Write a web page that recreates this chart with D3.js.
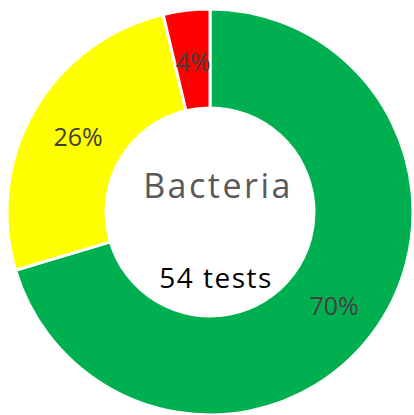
<!DOCTYPE html>
<html>
<head>
<meta charset="utf-8">
<script src="https://cdn.jsdelivr.net/npm/d3@7"></script>
<style>
  html, body { margin: 0; padding: 0; background: #fff; }
  svg { display: block; }
</style>
</head>
<body>
<svg id="chart" width="414" height="415"></svg>
<script>
// test results by outcome, clockwise from 12 o'clock
const outcomes = ['pass', 'warn', 'fail'];
const counts = [38, 14, 2];
const colors = ['#00B050', '#FFFF00', '#FF0000'];
const title = 'Bacteria';
const subtitle = '54 tests';

const width = 414;
const height = 415;
const cx = 210, cy = 212;
const outerR = 203, innerR = 104;

const svg = d3.select('#chart');
const g = svg.append('g').attr('transform', `translate(${cx},${cy})`);

const total = d3.sum(counts);
const pie = d3.pie().sort(null).value((d) => d.count);
const arcs = pie(outcomes.map((o, i) => ({ outcome: o, count: counts[i], color: colors[i] })));

const arc = d3.arc().innerRadius(innerR).outerRadius(outerR);

// slices, with a thin white gap between them
g.selectAll('path')
  .data(arcs)
  .enter()
  .append('path')
  .attr('d', arc)
  .attr('fill', (d) => d.data.color)
  .attr('stroke', '#fff')
  .attr('stroke-width', 3);

// percentage labels in the middle of the ring
g.selectAll('text.pct')
  .data(arcs)
  .enter()
  .append('text')
  .attr('class', 'pct')
  .attr('x', (d) => arc.centroid(d)[0] + 1)
  .attr('y', (d) => arc.centroid(d)[1] + 1)
  .attr('text-anchor', 'middle')
  .attr('dominant-baseline', 'central')
  .attr('font-family', 'Open Sans')
  .attr('font-size', 25)
  .attr('fill', '#404040')
  .text((d) => Math.round((d.data.count / total) * 100) + '%');

// centre texts
g.append('text')
  .attr('x', 8)
  .attr('y', -14)
  .attr('text-anchor', 'middle')
  .attr('font-family', 'Open Sans')
  .attr('font-size', 34)
  .attr('letter-spacing', 2.5)
  .attr('fill', '#595959')
  .text(title);

g.append('text')
  .attr('x', 6)
  .attr('y', 76)
  .attr('text-anchor', 'middle')
  .attr('font-family', 'Open Sans')
  .attr('font-size', 28)
  .attr('letter-spacing', 1.5)
  .attr('fill', '#000')
  .text(subtitle);
</script>
</body>
</html>
